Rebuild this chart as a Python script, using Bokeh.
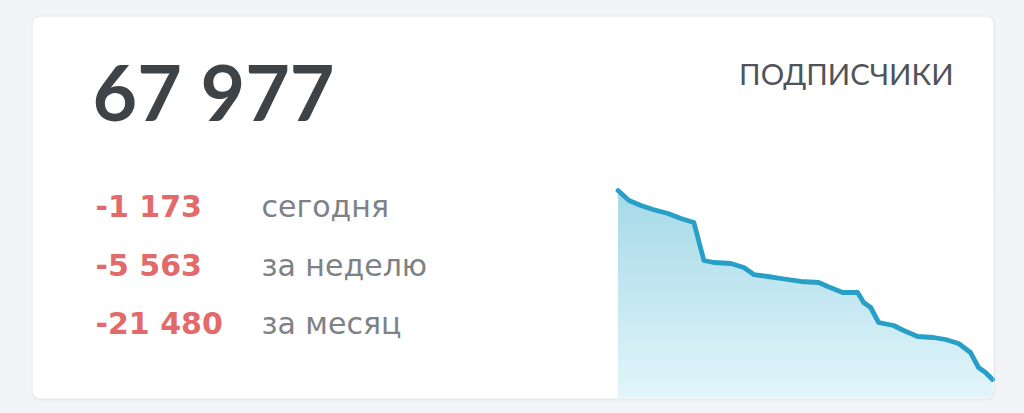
import numpy as np
from bokeh.plotting import figure
from bokeh.models import Range1d, BoxAnnotation, Label
from bokeh.embed import file_html
from bokeh.resources import INLINE

# ---- data ----
total_subscribers = "67 977"
title = "ПОДПИСЧИКИ"
change_values = ["-1 173", "-5 563", "-21 480"]
change_labels = ["сегодня", "за неделю", "за месяц"]

days = [0.0, 0.88, 1.84, 2.8, 4.0, 5.04, 6.08, 6.88, 7.68, 9.04, 10.08, 10.88,
        12.0, 13.04, 14.64, 16.08, 16.8, 18.0, 19.2, 19.68, 20.24, 20.88, 22.08,
        22.88, 24.0, 25.28, 26.24, 27.28, 28.24, 28.88, 29.44, 30.0]
subscribers = [89457, 88320, 87752, 87298, 86843, 86275, 85820, 81502, 81274,
               81160, 80706, 79910, 79683, 79456, 79115, 79001, 78547, 77865,
               77865, 76728, 76160, 74455, 74116, 73546, 72864, 72750, 72523,
               72068, 71045, 69341, 68773, 67977]

# ---- layout (page pixel coordinates) ----
W, H = 1024, 413
p = figure(width=W, height=H, output_backend="svg", toolbar_location=None,
           x_range=Range1d(0, W), y_range=Range1d(H, 0), min_border=0)
p.axis.visible = False
p.grid.visible = False
p.outline_line_color = None
p.background_fill_color = "#f3f4f7"
p.border_fill_color = "#f3f4f7"

# card shadow + card
p.add_layout(BoxAnnotation(left=31, right=995, top=15, bottom=400,
                           fill_color="#e9ebef", fill_alpha=1.0,
                           line_color=None, border_radius=8, level="underlay"))
p.add_layout(BoxAnnotation(left=32, right=993, top=16, bottom=398,
                           fill_color="#ffffff", fill_alpha=1.0,
                           line_color=None, border_radius=7, level="underlay"))

# ---- sparkline via its own scales ----
d = np.array(days, dtype=float)
v = np.array(subscribers, dtype=float)
sx_left, sx_right = 617.5, 992.0     # pixel span of the sparkline
sy_top, sy_last, sy_base = 190.0, 379.0, 397.0
xs = (sx_right - sx_left) / (d.max() - d.min())
k = (v.max() - v.min()) / (sy_last - sy_top)
x_start = d.min() - sx_left / xs
x_end = d.min() + (W - sx_left) / xs
y_start = v.max() - (H - sy_top) * k
y_end = v.max() + sy_top * k
base = v.max() - (sy_base - sy_top) * k
p.extra_x_ranges = {"days": Range1d(x_start, x_end)}
p.extra_y_ranges = {"subs": Range1d(y_start, y_end)}

# vertical gradient: horizontal bands, then white mask above the line
c_top = np.array([166, 218, 233])
c_bot = np.array([226, 245, 250])
n_bands = 70
edges = np.linspace(base, v.max(), n_bands + 1)
tt = np.linspace(0, 1, n_bands)
cols = ["#%02x%02x%02x" % tuple((c_bot + (c_top - c_bot) * t).astype(int)) for t in tt]
p.quad(left=d.min(), right=d.max(), bottom=edges[:-1], top=edges[1:] + (edges[1] - edges[0]) * 0.3,
       fill_color=cols, line_color=None, x_range_name="days", y_range_name="subs")
eps = 1.0 / xs   # ~1 px in day units, so the mask overlaps the band edges
mx = np.concatenate([[d[0] - eps], d, [d[-1] + eps]])
my = np.concatenate([[v[0]], v, [v[-1]]])
p.varea(x=mx, y1=my, y2=np.full_like(my, v.max() + (v.max() - v.min()) * 0.02),
        fill_color="#ffffff", x_range_name="days", y_range_name="subs")
p.line(d, v, line_color="#279fc6", line_width=4.8, line_join="round",
       line_cap="round", x_range_name="days", y_range_name="subs")

# card border drawn on top
p.add_layout(BoxAnnotation(left=32, right=993, top=16, bottom=398,
                           fill_alpha=0.0, line_color="#e2e4e8", line_width=1,
                           border_radius=7, level="overlay"))

# ---- texts ----
p.add_layout(Label(x=92, y=90, text=total_subscribers, text_font="Lato",
                   text_font_size="77px", text_font_style="bold",
                   text_color="#3e4347", text_baseline="alphabetic"))
p.add_layout(Label(x=953, y=72.5, text=title, text_font="Lato",
                   text_font_size="29.3px", text_color="#505458",
                   text_align="right", text_baseline="alphabetic"))
row_y = [206, 264.5, 323]
for val, lab, y in zip(change_values, change_labels, row_y):
    p.add_layout(Label(x=95, y=y, text=val, text_font="DejaVu Sans",
                       text_font_size="30px", text_font_style="bold",
                       text_color="#e26a6a", text_baseline="alphabetic"))
    p.add_layout(Label(x=261, y=y, text=lab, text_font="DejaVu Sans",
                       text_font_size="30px", text_color="#7e8286",
                       text_baseline="alphabetic"))

html = file_html(p, INLINE)
html = html.replace("<head>", "<head><style>body{background:#f3f4f7;}</style>", 1)
open("out.html", "w").write(html)
